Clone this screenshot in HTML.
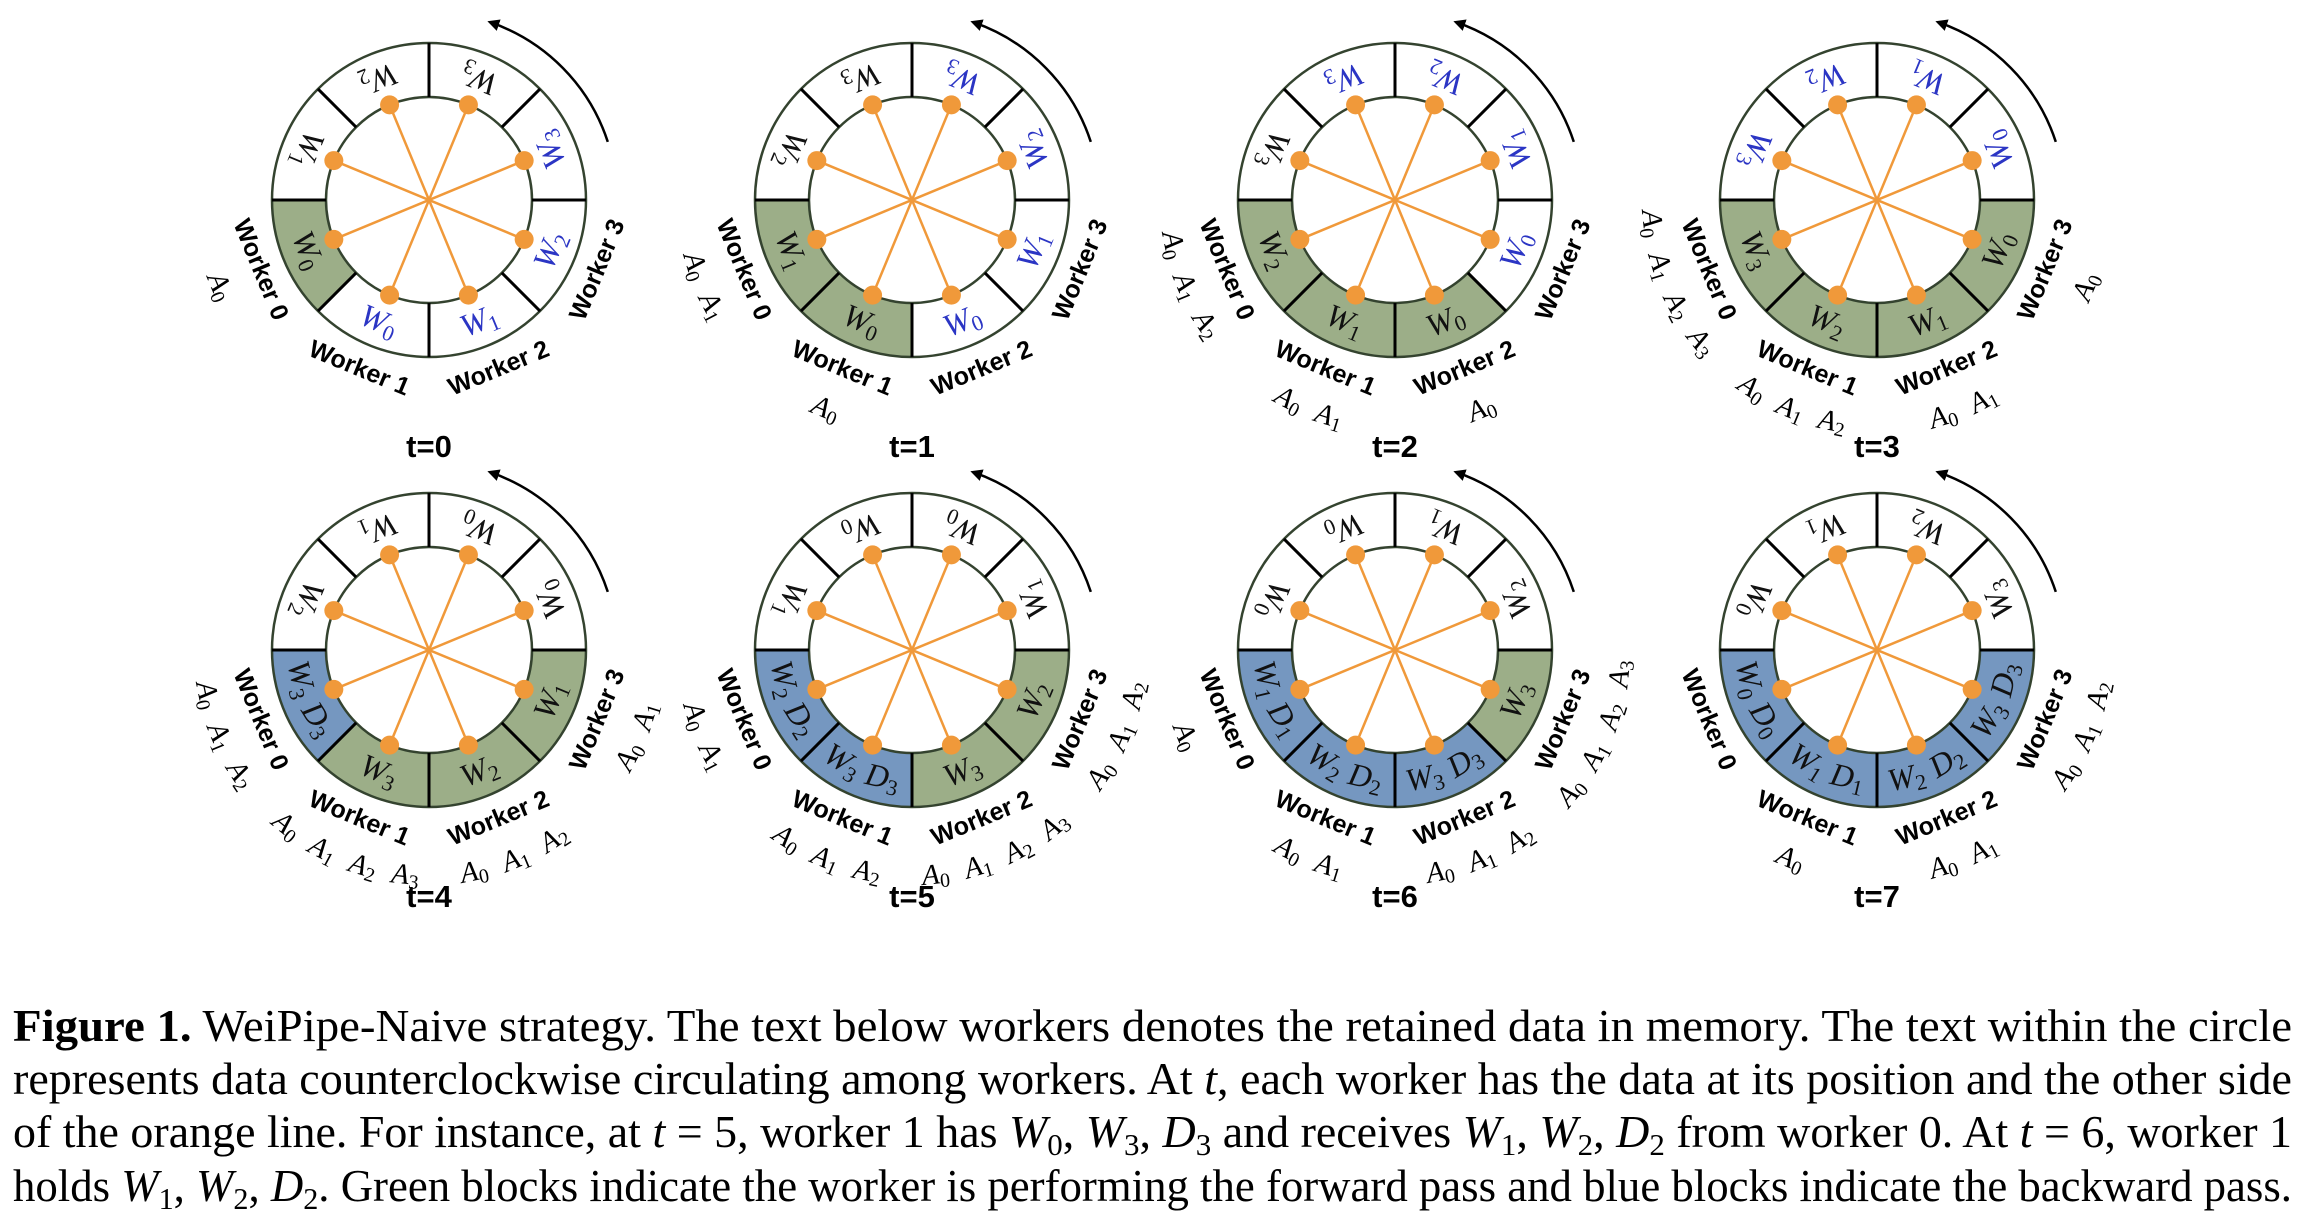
<!DOCTYPE html>
<html><head><meta charset="utf-8">
<style>
html,body{margin:0;padding:0;background:#fff;}
svg{display:block;}
.wk{font-family:"Liberation Sans",sans-serif;font-weight:bold;font-size:25px;fill:#000;}
.seg{font-family:"Liberation Serif",serif;font-style:italic;font-size:32px;}
.al{font-family:"Liberation Serif",serif;font-style:italic;font-size:29px;fill:#000;}
.tl{font-family:"Liberation Sans",sans-serif;font-weight:bold;font-size:31px;}
.cap{font-family:"Liberation Serif",serif;font-size:46px;fill:#000;}
</style></head>
<body>
<svg id="fig" width="2320" height="1226" viewBox="0 0 2320 1226" xmlns="http://www.w3.org/2000/svg">
<defs>
<marker id="ah" markerWidth="12" markerHeight="12" refX="9" refY="6" orient="auto" markerUnits="userSpaceOnUse">
<path d="M0,0 L12,6 L0,12 Z" fill="#000"/>
</marker>
</defs>
<g id="diagrams"></g>
<g>
<text class="cap" x="13" y="1041" textLength="2279" lengthAdjust="spacingAndGlyphs"><tspan font-weight="bold">Figure 1.</tspan> WeiPipe-Naive strategy. The text below workers denotes the retained data in memory. The text within the circle</text>
<text class="cap" x="13" y="1094" textLength="2279" lengthAdjust="spacingAndGlyphs">represents data counterclockwise circulating among workers. At <tspan font-style="italic">t</tspan>, each worker has the data at its position and the other side</text>
<text class="cap" x="13" y="1147" textLength="2279" lengthAdjust="spacingAndGlyphs">of the orange line. For instance, at <tspan font-style="italic">t</tspan> = 5, worker 1 has <tspan font-style="italic">W</tspan><tspan font-size="31" dy="8">0</tspan><tspan dy="-8">, </tspan><tspan font-style="italic">W</tspan><tspan font-size="31" dy="8">3</tspan><tspan dy="-8">, </tspan><tspan font-style="italic">D</tspan><tspan font-size="31" dy="8">3</tspan><tspan dy="-8"> and receives </tspan><tspan font-style="italic">W</tspan><tspan font-size="31" dy="8">1</tspan><tspan dy="-8">, </tspan><tspan font-style="italic">W</tspan><tspan font-size="31" dy="8">2</tspan><tspan dy="-8">, </tspan><tspan font-style="italic">D</tspan><tspan font-size="31" dy="8">2</tspan><tspan dy="-8"> from worker 0. At </tspan><tspan font-style="italic">t</tspan> = 6, worker 1</text>
<text class="cap" x="13" y="1201" textLength="2279" lengthAdjust="spacingAndGlyphs">holds <tspan font-style="italic">W</tspan><tspan font-size="31" dy="8">1</tspan><tspan dy="-8">, </tspan><tspan font-style="italic">W</tspan><tspan font-size="31" dy="8">2</tspan><tspan dy="-8">, </tspan><tspan font-style="italic">D</tspan><tspan font-size="31" dy="8">2</tspan><tspan dy="-8">. Green blocks indicate the worker is performing the forward pass and blue blocks indicate the backward pass.</tspan></text>
</g>
</svg>
<script>
const segAngles = [157.5,112.5,67.5,22.5,337.5,292.5,247.5,202.5];
const timeLabels = ["t=0","t=1","t=2","t=3","t=4","t=5","t=6","t=7"];
const segText = [
 ["W0","W0","W1","W2","W3","W3","W2","W1"],
 ["W1","W0","W0","W1","W2","W3","W3","W2"],
 ["W2","W1","W0","W0","W1","W2","W3","W3"],
 ["W3","W2","W1","W0","W0","W1","W2","W3"],
 ["W3 D3","W3","W2","W1","W0","W0","W1","W2"],
 ["W2 D2","W3 D3","W3","W2","W1","W0","W0","W1"],
 ["W1 D1","W2 D2","W3 D3","W3","W2","W1","W0","W0"],
 ["W0 D0","W1 D1","W2 D2","W3 D3","W3","W2","W1","W0"]
];
const segFill = [
 ["g","w","w","w","w","w","w","w"],
 ["g","g","w","w","w","w","w","w"],
 ["g","g","g","w","w","w","w","w"],
 ["g","g","g","g","w","w","w","w"],
 ["b","g","g","g","w","w","w","w"],
 ["b","b","g","g","w","w","w","w"],
 ["b","b","b","g","w","w","w","w"],
 ["b","b","b","b","w","w","w","w"]
];
const segColor = [
 ["k","u","u","u","u","k","k","k"],
 ["k","k","u","u","u","u","k","k"],
 ["k","k","k","u","u","u","u","k"],
 ["k","k","k","k","u","u","u","u"],
 ["k","k","k","k","k","k","k","k"],
 ["k","k","k","k","k","k","k","k"],
 ["k","k","k","k","k","k","k","k"],
 ["k","k","k","k","k","k","k","k"]
];
const memCount = [
 [1,0,0,0],[2,1,0,0],[3,2,1,0],[4,3,2,1],
 [3,4,3,2],[2,3,4,3],[1,2,3,4],[0,1,2,3]
];
const workerAngles = [157.5,112.5,67.5,22.5];
const colX = [429,912,1395,1877];
const rowY = [200,650];

const NS="http://www.w3.org/2000/svg";
const root=document.getElementById('diagrams');
const R_OUT=157, R_IN=103, R_TXT=130, R_WK=182, R_A=226;
const FILLS={g:"#9cae88",b:"#7597c0",w:"#ffffff"};
const COLS={k:"#111",u:"#2b35c4"};
function mk(tag,attrs,parent){const e=document.createElementNS(NS,tag);for(const k in attrs)e.setAttribute(k,attrs[k]);parent.appendChild(e);return e;}
function rad(d){return d*Math.PI/180;}
function pt(cx,cy,r,a){return [cx+r*Math.cos(rad(a)),cy+r*Math.sin(rad(a))];}
function token(parent,cls,cx,cy,r,a,tk,big,small,dyv,fill,name){
  const q=pt(cx,cy,r,a);
  const tx=mk('text',{class:cls,x:q[0],y:q[1],"text-anchor":"middle","dominant-baseline":"central",fill:fill,transform:`rotate(${a-90} ${q[0]} ${q[1]})`},parent);
  
  
  const A=document.createElementNS(NS,'tspan');A.textContent=tk[0];A.setAttribute('font-size',big);tx.appendChild(A);
  const B=document.createElementNS(NS,'tspan');B.textContent=tk.slice(1);B.setAttribute('font-size',small);B.setAttribute('dy',dyv);B.setAttribute('font-style','normal');tx.appendChild(B);
}
for(let t=0;t<8;t++){
  const cx=colX[t%4], cy=rowY[Math.floor(t/4)];
  const g=mk('g',{},root);
  
  
  for(let s=0;s<8;s++){
    const a0=segAngles[s]-22.5,a1=segAngles[s]+22.5;
    const p1=pt(cx,cy,R_OUT,a0),p2=pt(cx,cy,R_OUT,a1),p3=pt(cx,cy,R_IN,a1),p4=pt(cx,cy,R_IN,a0);
    const p=mk('path',{d:`M${p1} A${R_OUT},${R_OUT} 0 0 1 ${p2} L${p3} A${R_IN},${R_IN} 0 0 0 ${p4} Z`,fill:FILLS[segFill[t][s]],stroke:"none"},g);
    
    
  }
  mk('circle',{cx,cy,r:R_OUT,fill:"none",stroke:"#34432f","stroke-width":2.5},g);
  mk('circle',{cx,cy,r:R_IN,fill:"none",stroke:"#34432f","stroke-width":2.5},g);
  for(let k=0;k<8;k++){
    const q1=pt(cx,cy,R_IN,k*45),q2=pt(cx,cy,R_OUT,k*45);
    mk('line',{x1:q1[0],y1:q1[1],x2:q2[0],y2:q2[1],stroke:"#000","stroke-width":3},g);
  }
  for(let s=0;s<4;s++){
    const q1=pt(cx,cy,R_IN,segAngles[s]),q2=pt(cx,cy,R_IN,segAngles[s]+180);
    const l=mk('line',{x1:q1[0],y1:q1[1],x2:q2[0],y2:q2[1],stroke:"#f0993a","stroke-width":2.5},g);
    
    
  }
  for(let s=0;s<8;s++){
    const q=pt(cx,cy,R_IN,segAngles[s]);
    const d=mk('circle',{cx:q[0],cy:q[1],r:9.5,fill:"#f0993a"},g);
    
    
  }
  for(let s=0;s<8;s++){
    const toks=segText[t][s].split(" ");
    const n=toks.length, step=19;
    toks.forEach((tk,i)=>{
      // text reads clockwise in screen => later tokens at larger... rotation φ-90 reads toward decreasing angle
      const a=segAngles[s]+((n-1)/2-i)*step;
      token(g,"seg",cx,cy,R_TXT,a,tk,32,22,8,COLS[segColor[t][s]],'segment-label');
    });
  }
  for(let w=0;w<4;w++){
    const a=workerAngles[w],q=pt(cx,cy,R_WK,a);
    const tx=mk('text',{class:"wk",x:q[0],y:q[1],"text-anchor":"middle","dominant-baseline":"central",transform:`rotate(${a-90} ${q[0]} ${q[1]})`},g);
    tx.textContent="Worker "+w;
    
    
    const n=memCount[t][w], step=11;
    for(let i=0;i<n;i++){
      const aa=a+((n-1)/2-i)*step;
      token(g,"al",cx,cy,R_A,aa,"A"+i,29,20,7,"#000",'memory-label');
    }
  }
  const s1=pt(cx,cy,188,-18),s2=pt(cx,cy,188,-71);
  const ar=mk('path',{d:`M${s1} A188,188 0 0 0 ${s2}`,fill:"none",stroke:"#000","stroke-width":2.5,"marker-end":"url(#ah)"},g);
  
  
  const tl=mk('text',{class:"tl",x:cx,y:cy+257,"text-anchor":"middle"},g);
  tl.textContent=timeLabels[t];
  
  
}
</script>
</body></html>
